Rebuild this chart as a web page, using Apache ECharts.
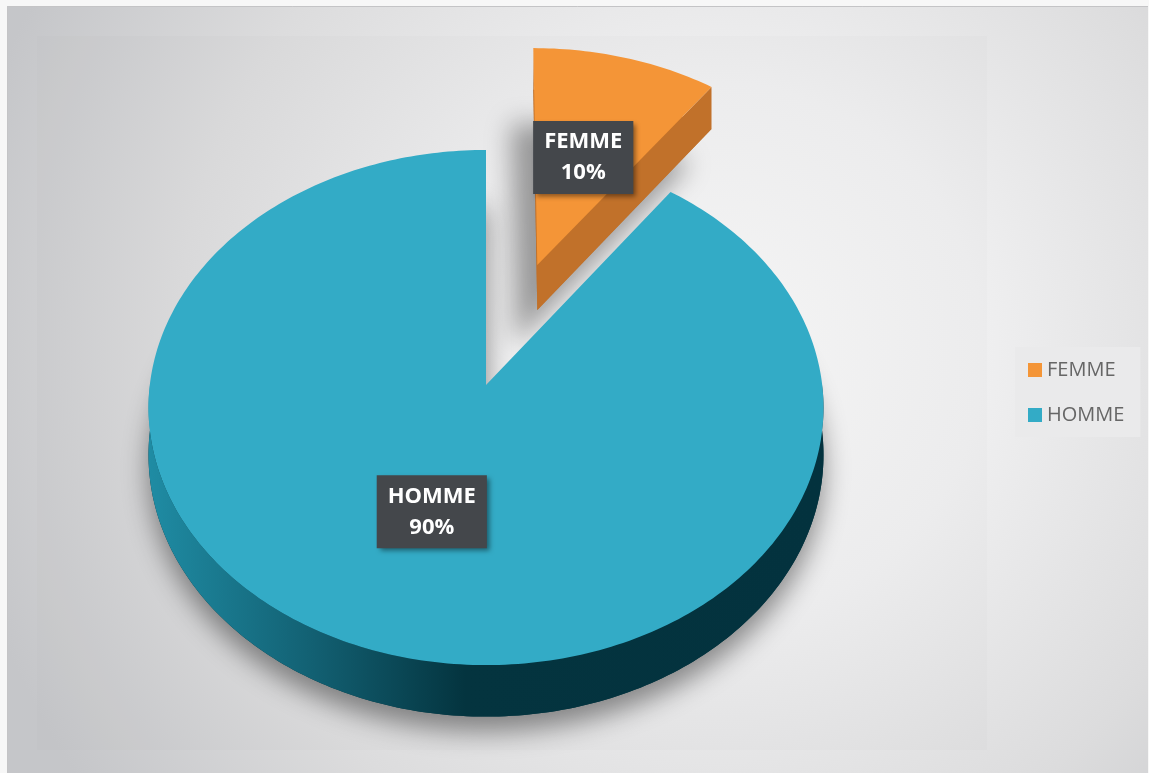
<!DOCTYPE html>
<html>
<head>
<meta charset="utf-8">
<title>FEMME / HOMME</title>
<script src="https://cdn.jsdelivr.net/npm/echarts@6/dist/echarts.min.js"></script>
<style>
  html, body { margin: 0; padding: 0; width: 1149px; height: 773px; overflow: hidden; background: #f7f7f7; }
  #chart { position: absolute; left: 7px; top: 6px; width: 1141px; height: 767px; }
</style>
</head>
<body>
<div id="chart"></div>
<script>
// Share of each group, in percent
const categories = ['FEMME', 'HOMME'];
const shares = [10, 90];

// Palette
const topColors = ['#f49537', '#33abc6'];
const cutColors = ['#c1712a', '#1c7f95'];
const explodeBy = [0.515, 0];

// Tilted-disc projection: unit-disc coordinates (X right, Z toward viewer) to pixels
const VIEW = { cx: 479, cy: 379, rx: 336.2, ry: 255.6, persp: 0.0875, depth: 47 };
function project(X, Z, drop) {
  const w = 1 - VIEW.persp * Z;
  return [VIEW.cx + VIEW.rx * X / w, VIEW.cy + (VIEW.ry * Z + drop) / w];
}

const total = shares.reduce((s, v) => s + v, 0);
const angles = [];
let acc = 0;
shares.forEach(v => {
  const a0 = acc / total * 360;
  acc += v;
  angles.push([a0, acc / total * 360]);
});

const wallGradient = {
  type: 'linear', global: true, x: 141, y: 0, x2: 816, y2: 0,
  colorStops: [
    { offset: 0, color: '#1f8ca4' },
    { offset: 0.25, color: '#125f71' },
    { offset: 0.47, color: '#04343f' },
    { offset: 1, color: '#03323e' }
  ]
};

function makeRenderer(i) {
  return function (params, api) {
    const t0 = api.value(0) * Math.PI / 180;
    const t1 = api.value(1) * Math.PI / 180;
    const share = api.value(2);
    const mid = (t0 + t1) / 2;
    const ox = explodeBy[i] * Math.sin(mid);
    const oz = -explodeBy[i] * Math.cos(mid);
    const D = VIEW.depth;
    const pt = (r, t, drop) => project(ox + r * Math.sin(t), oz - r * Math.cos(t), drop);
    const arc = (a, b, drop) => {
      const n = Math.max(2, Math.ceil(Math.abs(b - a) / (Math.PI / 180)));
      const pts = [];
      for (let k = 0; k <= n; k++) pts.push(pt(1, a + (b - a) * k / n, drop));
      return pts;
    };
    const children = [];

    // soft floor shadow cast by the slice
    const shadowPts = [pt(0, 0, D)].concat(arc(t0, t1, D));
    children.push({
      type: 'polygon', shape: { points: shadowPts },
      style: i === 0
        ? { fill: cutColors[i], shadowBlur: 26, shadowOffsetX: -22, shadowOffsetY: 34, shadowColor: 'rgba(0,0,0,0.36)' }
        : { fill: '#04343f', shadowBlur: 26, shadowOffsetX: 0, shadowOffsetY: 15, shadowColor: 'rgba(0,0,0,0.42)' }
    });

    // curved outer wall (front half only)
    const wa = Math.max(t0, Math.PI / 2), wb = Math.min(t1, Math.PI * 1.5);
    if (wa < wb) {
      const wallPts = arc(wa, wb, 0).concat(arc(wa, wb, D).reverse());
      children.push({ type: 'polygon', shape: { points: wallPts }, style: { fill: wallGradient } });
    }

    // radial cut faces that turn toward the viewer
    const camZ = 1 / VIEW.persp;
    [[t1, 1], [t0, -1]].forEach(([t, sgn]) => {
      const nx = sgn * Math.cos(t), nz = sgn * Math.sin(t);
      if (nx * (-ox) + nz * (camZ - oz) > 0.01) {
        children.push({
          type: 'polygon',
          shape: { points: [pt(0, 0, 0), pt(1, t, 0), pt(1, t, D), pt(0, 0, D)] },
          style: { fill: cutColors[i] }
        });
      }
    });

    // top face
    children.push({
      type: 'polygon', shape: { points: [pt(0, 0, 0)].concat(arc(t0, t1, 0)) },
      style: { fill: topColors[i] }
    });

    // data label
    const lp = pt(0.5, mid, 0);
    children.push({
      type: 'text', x: lp[0], y: lp[1], z2: 10,
      style: {
        text: categories[i] + '\n' + Math.round(share / total * 100) + '%',
        fill: '#ffffff',
        font: 'bold 22px "Open Sans", sans-serif',
        align: 'center', verticalAlign: 'middle',
        lineHeight: 31,
        backgroundColor: '#44474b',
        padding: [6, 11, 5, 11],
        shadowBlur: 5, shadowOffsetX: 3, shadowOffsetY: 3,
        shadowColor: 'rgba(0,0,0,0.45)'
      }
    });
    return { type: 'group', children };
  };
}

const chart = echarts.init(document.getElementById('chart'), null, { renderer: 'canvas' });
chart.setOption({
  animation: false,
  backgroundColor: {
    type: 'radial', x: 0.62, y: 0.45, r: 1.0,
    colorStops: [
      { offset: 0, color: '#f8f8f8' },
      { offset: 0.35, color: '#efeff0' },
      { offset: 0.7, color: '#dcdcdd' },
      { offset: 1, color: '#c5c6c9' }
    ]
  },
  graphic: [
    { type: 'rect', silent: true, z: -1, shape: { x: 30, y: 30, width: 950, height: 714 },
      style: { fill: 'rgba(110,90,90,0.02)' } },
    { type: 'polyline', silent: true, z: -1, shape: { points: [[0.5, 767], [0.5, 0.5], [1141, 0.5]] },
      style: { stroke: '#c4c4c6', lineWidth: 1, fill: null } }
  ],
  legend: {
    orient: 'vertical',
    left: 1008, top: 341,
    data: categories,
    icon: 'rect',
    itemWidth: 14, itemHeight: 14,
    itemGap: 25,
    padding: [13, 16, 12, 13],
    backgroundColor: '#eaeaeb',
    selectedMode: false,
    textStyle: { fontSize: 20, color: '#666666', fontFamily: '"Open Sans", sans-serif', lineHeight: 20 }
  },
  series: categories.map((name, i) => ({
    type: 'custom',
    name: name,
    coordinateSystem: 'none',
    z: 2 + i,
    itemStyle: { color: topColors[i] },
    renderItem: makeRenderer(i),
    data: [[angles[i][0], angles[i][1], shares[i]]]
  }))
});
</script>
</body>
</html>
